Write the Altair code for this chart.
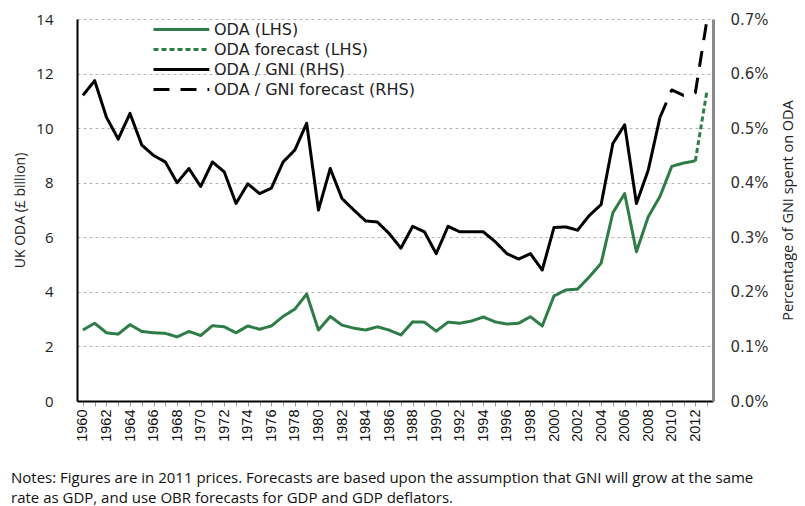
import altair as alt
import pandas as pd

# ---- data ----
oda_years = list(range(1960, 2013))
oda = [2.6, 2.85, 2.5, 2.45, 2.8, 2.55, 2.5, 2.48, 2.35, 2.55,
       2.4, 2.76, 2.72, 2.5, 2.75, 2.63, 2.75, 3.1, 3.37, 3.92,
       2.6, 3.1, 2.78, 2.67, 2.6, 2.72, 2.6, 2.42, 2.9, 2.89,
       2.56, 2.89, 2.85, 2.93, 3.08, 2.9, 2.82, 2.85, 3.09, 2.75,
       3.85, 4.07, 4.1, 4.55, 5.05, 6.9, 7.6, 5.47, 6.75, 7.5,
       8.6, 8.72, 8.8]
oda_fc_years = [2012, 2013]
oda_fc = [8.8, 11.4]

gni_years = list(range(1960, 2010))
oda_gni = [0.56, 0.587, 0.52, 0.48, 0.527, 0.469, 0.45, 0.438, 0.40, 0.426,
           0.393, 0.438, 0.42, 0.362, 0.398, 0.38, 0.39, 0.438, 0.46, 0.509,
           0.35, 0.426, 0.371, 0.35, 0.33, 0.328, 0.307, 0.28, 0.32, 0.31,
           0.27, 0.32, 0.31, 0.31, 0.31, 0.292, 0.27, 0.26, 0.27, 0.24,
           0.318, 0.319, 0.313, 0.34, 0.36, 0.472, 0.506, 0.362, 0.423, 0.52]
gni_fc_years = [2009, 2010, 2011, 2012, 2013]
gni_fc = [0.52, 0.57, 0.56, 0.565, 0.70]

series_names = ["ODA (LHS)", "ODA forecast (LHS)", "ODA / GNI (RHS)", "ODA / GNI forecast (RHS)"]
series_colors = ["#2e7d46", "#2e7d46", "#000000", "#000000"]
series_dashes = [[1, 0], [5, 3], [1, 0], [16, 11]]

left_ticks = [0, 2, 4, 6, 8, 10, 12, 14]
right_ticks = [0.0, 0.1, 0.2, 0.3, 0.4, 0.5, 0.6, 0.7]
year_ticks = list(range(1960, 2014))

notes = ["Notes: Figures are in 2011 prices. Forecasts are based upon the assumption that GNI will grow at the same",
         "rate as GDP, and use OBR forecasts for GDP and GDP deflators."]

# ---- tables ----
lhs = pd.DataFrame(
    [{"year": y, "value": v, "series": series_names[0]} for y, v in zip(oda_years, oda)] +
    [{"year": y, "value": v, "series": series_names[1]} for y, v in zip(oda_fc_years, oda_fc)]
)
rhs = pd.DataFrame(
    [{"year": y, "pct": v, "series": series_names[2]} for y, v in zip(gni_years, oda_gni)] +
    [{"year": y, "pct": v, "series": series_names[3]} for y, v in zip(gni_fc_years, gni_fc)]
)

legend = alt.Legend(
    title=None, orient="none", legendX=75, legendY=0,
    symbolType="M-1,0H5.2", symbolSize=324, symbolStrokeWidth=3,
    labelFont="DejaVu Sans", labelFontSize=16, labelColor="#222", labelLimit=400,
    rowPadding=1, labelOffset=41, symbolOpacity=1, padding=0,
)
color = alt.Color("series:N", scale=alt.Scale(domain=series_names, range=series_colors), legend=legend)
dash = alt.StrokeDash("series:N", scale=alt.Scale(domain=series_names, range=series_dashes), legend=legend)

x = alt.X(
    "year:Q",
    scale=alt.Scale(domain=[1959.5, 2013.5], nice=False, zero=False),
    axis=alt.Axis(
        values=year_ticks, format="d",
        labelExpr="datum.value % 2 == 0 ? datum.label : ''",
        labelAngle=270, labelOverlap=False, labelFont="Liberation Sans", labelFontSize=14.5,
        labelColor="#111", labelPadding=3, tickColor="#999", tickSize=5,
        domainColor="#000", domainWidth=2, grid=False, title=None,
    ),
)

left = alt.Chart(lhs).mark_line(strokeWidth=3, strokeJoin="round").encode(
    x=x,
    y=alt.Y(
        "value:Q",
        scale=alt.Scale(domain=[0, 14], nice=False),
        axis=alt.Axis(
            values=left_ticks, title="UK ODA (£ billion)", titleFont="Open Sans",
            titleFontSize=14, titleFontWeight="normal", titleColor="#222", titlePadding=8,
            labelFont="Open Sans", labelFontSize=15, labelColor="#222", ticks=False,
            labelPadding=24, domainColor="#000", domainWidth=2, grid=True,
            gridDash=[3, 3], gridColor="#b8b8b8", gridWidth=1,
        ),
    ),
    color=color,
    strokeDash=dash,
)

right = alt.Chart(rhs).mark_line(strokeWidth=3, strokeJoin="round").encode(
    x=x,
    y=alt.Y(
        "pct:Q",
        scale=alt.Scale(domain=[0, 0.7], nice=False),
        axis=alt.Axis(
            orient="right", values=right_ticks,
            labelExpr="format(datum.value, '.1f') + '%'",
            title="Percentage of GNI spent on ODA", titleAngle=270, titleFont="Open Sans",
            titleFontSize=14.5, titleFontWeight="normal", titleColor="#222", titlePadding=27,
            labelFont="DejaVu Sans", labelFontSize=15, labelColor="#333", ticks=False,
            labelPadding=17, domainColor="#8a8a8a", domainWidth=3, grid=False,
        ),
    ),
    color=color,
    strokeDash=dash,
)

chart = alt.layer(left, right).resolve_scale(y="independent").properties(
    width=636, height=382,
    autosize=alt.AutoSizeParams(type="none"),
    padding={"left": 69, "top": 11, "right": 84, "bottom": 105},
    title=alt.TitleParams(
        text=notes[0], subtitle=notes[1], orient="bottom", anchor="start", frame="group",
        dx=-66, offset=30,
        font="Open Sans", fontSize=15, fontWeight="normal", color="#111",
        subtitleFont="Open Sans", subtitleFontSize=15, subtitleFontWeight="normal",
        subtitleColor="#111", subtitlePadding=5,
    ),
    background="white",
).configure_view(stroke=None)

chart.save("out.html", embed_options={"renderer": "svg", "actions": False})
